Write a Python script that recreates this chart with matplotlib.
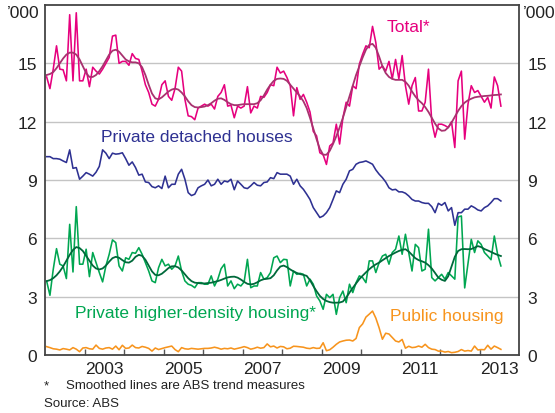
import numpy as np
import matplotlib
matplotlib.use("Agg")
import matplotlib.pyplot as plt

plt.rcParams['font.family'] = ['Liberation Sans', 'DejaVu Sans']

# monthly data, Jan 2002 - Jul 2013, '000
total_raw = [14.3, 13.7, 14.7, 15.9, 14.7, 14.67, 14.1, 17.5, 14.1, 17.6, 14.1, 14.1,
             14.7, 13.8, 14.8, 14.6, 14.45, 14.7, 15.0, 15.3, 16.4, 16.45, 15.0, 15.1,
             15.1, 14.9, 15.5, 15.25, 15.2, 14.6, 13.9, 13.5, 12.9, 12.8, 13.15, 13.9,
             14.1, 13.3, 13.1, 13.7, 14.8, 14.6, 13.15, 12.3, 12.26, 12.1, 12.7, 12.8,
             12.9, 12.8, 12.9, 12.65, 13.3, 13.5, 13.9, 12.8, 12.85, 12.2, 12.8, 12.7,
             12.8, 13.8, 12.45, 12.8, 12.7, 13.3, 13.25, 13.5, 13.9, 13.85, 14.8, 14.5,
             14.6, 14.27, 13.85, 12.3, 13.75, 13.15, 13.4, 13.0, 12.5, 11.5, 11.27, 10.4,
             10.3, 9.8, 10.75, 10.9, 11.87, 10.85, 12.2, 13.0, 12.8, 13.85, 13.7, 14.96,
             15.47, 15.9, 15.8, 16.9, 16.07, 14.7, 14.87, 14.6, 15.1, 14.2, 15.2, 14.2,
             15.4, 13.85, 12.9, 13.85, 14.27, 12.55, 12.55, 13.0, 14.7, 12.0, 11.2, 11.87,
             11.87, 11.8, 11.7, 12.0, 10.67, 14.1, 14.6, 11.1, 12.9, 13.85, 13.5, 13.6,
             13.3, 13.0, 13.25, 12.7, 14.3, 13.85, 12.8]
total_trend = [14.40, 14.45, 14.55, 14.75, 15.0, 15.25, 15.45, 15.55, 15.55, 15.45, 15.2, 14.85,
               14.5, 14.3, 14.3, 14.4, 14.6, 14.85, 15.15, 15.45, 15.65, 15.7, 15.6, 15.4,
               15.2, 15.1, 15.05, 15.05, 15.0, 14.8, 14.4, 13.9, 13.45, 13.2, 13.15, 13.25,
               13.4, 13.55, 13.65, 13.7, 13.65, 13.5, 13.3, 13.05, 12.85, 12.75, 12.73, 12.75,
               12.78, 12.85, 12.95, 13.08, 13.18, 13.2, 13.12, 13.0, 12.9, 12.85, 12.85, 12.88,
               12.9, 12.9, 12.9, 12.9, 12.95, 13.1, 13.35, 13.65, 13.9, 14.1, 14.2, 14.22,
               14.2, 14.1, 13.9, 13.7, 13.5, 13.3, 13.05, 12.7, 12.2, 11.65, 11.1, 10.6,
               10.3, 10.3, 10.5, 10.85, 11.25, 11.7, 12.2, 12.75, 13.3, 13.85, 14.4, 14.85,
               15.3, 15.7, 15.95, 16.0, 15.8, 15.35, 14.85, 14.5, 14.3, 14.2, 14.15, 14.15,
               14.15, 14.05, 13.85, 13.55, 13.3, 13.1, 12.95, 12.75, 12.5, 12.2, 11.9, 11.65,
               11.53, 11.55, 11.7, 11.95, 12.25, 12.55, 12.8, 12.98, 13.1, 13.18, 13.25, 13.28,
               13.3, 13.32, 13.33, 13.35, 13.37, 13.38, 13.4]
detached = [10.2, 10.2, 10.1, 10.1, 10.07, 9.98, 9.9, 10.55, 9.6, 9.64, 9.04, 9.2,
            9.38, 9.3, 9.2, 9.4, 9.7, 10.55, 10.38, 10.1, 10.38, 10.33, 10.35, 10.4,
            10.1, 9.76, 9.93, 9.64, 9.25, 9.3, 8.9, 8.87, 8.66, 8.6, 8.7, 8.56,
            9.2, 8.6, 8.78, 8.78, 9.3, 9.55, 9.04, 8.35, 8.2, 8.27, 8.6, 8.7,
            8.78, 9.0, 8.7, 8.78, 9.04, 8.78, 8.95, 8.9, 9.04, 8.5, 8.95, 8.78,
            8.6, 8.56, 8.7, 8.87, 8.73, 8.7, 8.87, 8.9, 9.12, 9.07, 9.38, 9.3,
            9.3, 9.3, 9.2, 8.78, 9.04, 8.7, 8.52, 8.27, 8.0, 7.58, 7.32, 7.07,
            7.15, 7.32, 7.58, 8.0, 8.44, 8.35, 8.78, 9.04, 9.47, 9.55, 9.81, 9.9,
            9.93, 9.98, 9.9, 9.81, 9.52, 9.3, 9.12, 8.9, 8.6, 8.49, 8.52, 8.39,
            8.39, 8.32, 8.18, 8.0, 7.92, 7.92, 7.84, 7.8, 7.8, 7.63, 7.32, 7.8,
            7.7, 7.84, 7.41, 7.58, 6.67, 7.32, 7.32, 7.5, 7.5, 7.67, 7.58, 7.46,
            7.41, 7.58, 7.67, 7.84, 8.04, 8.04, 7.92]
density_raw = [3.8, 3.07, 4.4, 5.47, 4.67, 4.58, 3.93, 6.72, 4.27, 7.63, 4.67, 4.67,
               5.44, 4.03, 5.27, 4.75, 4.24, 3.76, 4.58, 5.18, 5.92, 5.78, 4.58, 4.32,
               5.0, 4.92, 5.27, 5.23, 5.52, 5.18, 4.75, 4.32, 3.81, 3.72, 4.49, 4.92,
               4.58, 4.67, 4.41, 4.58, 5.09, 4.32, 3.81, 3.64, 3.58, 3.46, 3.72, 3.72,
               3.64, 3.64, 4.07, 3.55, 3.9, 4.44, 4.67, 3.55, 3.81, 3.41, 3.64, 3.55,
               3.76, 4.92, 3.46, 3.55, 3.55, 4.24, 3.9, 3.98, 4.24, 5.0, 5.09, 4.75,
               4.92, 4.9, 3.55, 4.32, 4.15, 4.2, 4.15, 3.55, 3.9, 3.64, 3.04, 2.78,
               2.35, 3.12, 2.95, 3.12, 2.09, 2.95, 3.29, 2.69, 3.64, 3.21, 3.72, 4.07,
               3.98, 3.72, 4.84, 4.84, 4.24, 4.75, 5.09, 5.18, 4.67, 5.27, 5.44, 6.12,
               5.18, 6.21, 5.27, 4.32, 5.69, 5.52, 4.32, 4.41, 6.47, 3.98, 3.81, 3.98,
               4.15, 3.9, 4.24, 4.07, 3.9, 7.1, 7.15, 3.45, 4.7, 5.95, 5.27, 5.87,
               5.69, 5.27, 5.09, 4.9, 6.12, 5.18, 4.58]
density_trend = [3.80, 3.85, 3.95, 4.1, 4.3, 4.55, 4.85, 5.15, 5.4, 5.55, 5.5, 5.35,
                 5.1, 4.85, 4.6, 4.45, 4.4, 4.45, 4.6, 4.8, 4.98, 5.05, 5.0, 4.88,
                 4.77, 4.75, 4.85, 5.05, 5.15, 5.1, 4.9, 4.6, 4.3, 4.12, 4.1, 4.18,
                 4.32, 4.47, 4.56, 4.57, 4.5, 4.35, 4.15, 3.95, 3.8, 3.72, 3.7, 3.68,
                 3.68, 3.7, 3.72, 3.76, 3.8, 3.86, 3.93, 3.99, 4.02, 4.03, 3.98, 3.88,
                 3.76, 3.66, 3.63, 3.66, 3.74, 3.84, 3.9, 3.92, 3.95, 4.1, 4.35, 4.55,
                 4.6, 4.52, 4.4, 4.3, 4.22, 4.16, 4.12, 4.07, 3.85, 3.55, 3.28, 3.04,
                 2.88, 2.78, 2.72, 2.69, 2.69, 2.7, 2.75, 2.95, 3.21, 3.45, 3.68, 3.9,
                 4.08, 4.25, 4.41, 4.55, 4.66, 4.75, 4.87, 4.98, 5.09, 5.18, 5.27, 5.35,
                 5.41, 5.44, 5.32, 5.15, 4.98, 4.88, 4.82, 4.75, 4.62, 4.45, 4.22, 3.98,
                 3.87, 3.81, 4.05, 4.55, 5.05, 5.35, 5.44, 5.45, 5.44, 5.45, 5.52, 5.6,
                 5.55, 5.45, 5.38, 5.3, 5.22, 5.15, 5.09]
public = [0.43, 0.38, 0.32, 0.3, 0.26, 0.33, 0.3, 0.26, 0.38, 0.3, 0.17, 0.36,
          0.38, 0.32, 0.3, 0.51, 0.34, 0.3, 0.36, 0.38, 0.3, 0.46, 0.27, 0.5,
          0.34, 0.36, 0.51, 0.38, 0.36, 0.44, 0.4, 0.34, 0.2, 0.36, 0.28, 0.33,
          0.38, 0.42, 0.46, 0.28, 0.17, 0.38, 0.32, 0.3, 0.34, 0.32, 0.3, 0.32,
          0.34, 0.34, 0.36, 0.4, 0.36, 0.3, 0.34, 0.32, 0.36, 0.3, 0.34, 0.38,
          0.43, 0.38, 0.3, 0.34, 0.4, 0.35, 0.38, 0.57, 0.42, 0.46, 0.36, 0.44,
          0.42, 0.32, 0.35, 0.45, 0.44, 0.42, 0.4, 0.35, 0.33, 0.38, 0.34, 0.35,
          0.63, 0.22, 0.27, 0.4, 0.55, 0.67, 0.72, 0.76, 0.77, 0.72, 0.85, 1.41,
          1.6, 1.95, 2.1, 2.26, 1.9, 1.4, 0.81, 1.12, 1.08, 0.9, 0.72, 0.67,
          0.8, 0.35, 0.45, 0.38, 0.4, 0.46, 0.4, 0.55, 0.38, 0.3, 0.28, 0.2,
          0.2, 0.15, 0.18, 0.12, 0.14, 0.18, 0.28, 0.2, 0.23, 0.2, 0.46, 0.26,
          0.28, 0.27, 0.5, 0.3, 0.46, 0.38, 0.29]

year_labels = ['2003', '2005', '2007', '2009', '2011', '2013']
y_ticks = [0, 3, 6, 9, 12, 15]

# x position of each month (mid-month, in years)
x = 2002 + (np.arange(len(total_raw)) + 0.5) / 12

fig = plt.figure(figsize=(5.55, 4.14), dpi=100)
ax = fig.add_axes([45 / 555, 58 / 414, 474 / 555, 350 / 414])

pink = '#e6007e'
plum = '#a8326f'
navy = '#2e3192'
green = '#00a651'
dkgreen = '#00693a'
orange = '#f7941d'

ax.plot(x, public, color=orange, lw=1.15)
ax.plot(x, density_raw, color=green, lw=1.15)
ax.plot(x, density_trend, color=dkgreen, lw=1.3)
ax.plot(x, detached, color=navy, lw=1.15)
ax.plot(x, total_raw, color=pink, lw=1.15)
ax.plot(x, total_trend, color=plum, lw=1.3)

ax.set_xlim(2002, 2014)
ax.set_ylim(0, 18)

for v in [3, 6, 9, 12, 15]:
    ax.axhline(v, color='#c4c4c4', lw=1.0, zorder=0)

# year ticks at boundaries, labels centred on the year
ax.set_xticks(np.arange(2003, 2014), minor=False)
ax.set_xticklabels([])
ax.set_xticks([2003.5, 2005.5, 2007.5, 2009.5, 2011.5, 2013.5], minor=True)
ax.set_xticklabels(year_labels, minor=True)
ax.tick_params(axis='x', which='major', direction='in', length=4, width=1, color='#555555')
ax.tick_params(axis='x', which='minor', length=0, pad=4.5, labelsize=12.5, labelcolor='#222222')

ax.set_yticks(y_ticks)
ax.set_yticklabels([str(v) for v in y_ticks])
ax.tick_params(axis='y', length=0, labelsize=12.5, labelcolor='#222222', pad=6,
               labelright=True, right=False, left=False)

for s in ax.spines.values():
    s.set_color('#444444')
    s.set_linewidth(1.3)

fig.text(40 / 555, 1 - 14 / 414, "\u2019000", ha='right', va='center', fontsize=12.5, color='#222222')
fig.text(523 / 555, 1 - 14 / 414, "\u2019000", ha='left', va='center', fontsize=12.5, color='#222222')

ax.text(2011.2, 16.9, 'Total*', color=pink, fontsize=12.5, ha='center', va='center')
ax.text(2005.85, 11.25, 'Private detached houses', color=navy, fontsize=12.5, ha='center', va='center')
ax.text(2005.82, 2.19, 'Private higher-density housing*', color=green, fontsize=12.5, ha='center', va='center')
ax.text(2012.17, 2.04, 'Public housing', color=orange, fontsize=12.5, ha='center', va='center')

fig.text(44 / 555, 1 - 386 / 414, '*', fontsize=9.5, color='#222222', va='center')
fig.text(66 / 555, 1 - 386 / 414, 'Smoothed lines are ABS trend measures', fontsize=9.5, color='#222222', va='center')
fig.text(44 / 555, 1 - 404 / 414, 'Source: ABS', fontsize=9.5, color='#222222', va='center')

fig.savefig('out.png', dpi=100)
